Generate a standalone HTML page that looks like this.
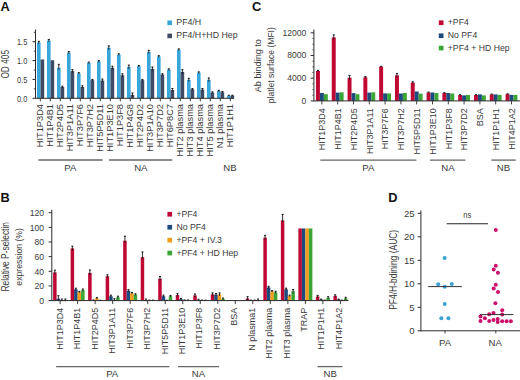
<!DOCTYPE html>
<html><head><meta charset="utf-8"><style>
html,body{margin:0;padding:0;background:#fff;}
body{width:520px;height:380px;overflow:hidden;}
svg{display:block;}
text{font-family:"Liberation Sans",sans-serif;}

</style></head><body>
<svg width="520" height="380" viewBox="0 0 520 380">
<rect width="520" height="380" fill="#fff"/>
<g font-family="Liberation Sans, sans-serif">
<text x="0.40" y="10.60" font-size="12.8" text-anchor="start" font-weight="bold" fill="#111">A</text>
<rect x="37.00" y="42.50" width="3.60" height="55.80" fill="#38a6da"/>
<rect x="40.60" y="59.47" width="3.60" height="38.83" fill="#3f4a65"/>
<line x1="38.80" y1="41.37" x2="38.80" y2="43.63" stroke="#1a1a1a" stroke-width="0.9"/>
<line x1="37.80" y1="41.37" x2="39.80" y2="41.37" stroke="#1a1a1a" stroke-width="1.1"/>
<rect x="47.00" y="40.62" width="3.60" height="57.68" fill="#38a6da"/>
<rect x="50.60" y="60.22" width="3.60" height="38.08" fill="#3f4a65"/>
<line x1="48.80" y1="39.49" x2="48.80" y2="41.75" stroke="#1a1a1a" stroke-width="0.9"/>
<line x1="47.80" y1="39.49" x2="49.80" y2="39.49" stroke="#1a1a1a" stroke-width="1.1"/>
<rect x="57.00" y="67.76" width="3.60" height="30.54" fill="#38a6da"/>
<rect x="60.60" y="86.99" width="3.60" height="11.31" fill="#3f4a65"/>
<line x1="58.80" y1="64.37" x2="58.80" y2="69.76" stroke="#1a1a1a" stroke-width="0.9"/>
<line x1="57.80" y1="64.37" x2="59.80" y2="64.37" stroke="#1a1a1a" stroke-width="1.1"/>
<line x1="62.40" y1="86.24" x2="62.40" y2="87.74" stroke="#1a1a1a" stroke-width="0.9"/>
<line x1="61.40" y1="86.24" x2="63.40" y2="86.24" stroke="#1a1a1a" stroke-width="1.1"/>
<rect x="67.00" y="52.68" width="3.60" height="45.62" fill="#38a6da"/>
<rect x="70.60" y="71.16" width="3.60" height="27.14" fill="#3f4a65"/>
<line x1="68.80" y1="51.55" x2="68.80" y2="53.81" stroke="#1a1a1a" stroke-width="0.9"/>
<line x1="67.80" y1="51.55" x2="69.80" y2="51.55" stroke="#1a1a1a" stroke-width="1.1"/>
<line x1="72.40" y1="69.65" x2="72.40" y2="72.66" stroke="#1a1a1a" stroke-width="0.9"/>
<line x1="71.40" y1="69.65" x2="73.40" y2="69.65" stroke="#1a1a1a" stroke-width="1.1"/>
<rect x="77.00" y="73.42" width="3.60" height="24.88" fill="#38a6da"/>
<rect x="80.60" y="86.99" width="3.60" height="11.31" fill="#3f4a65"/>
<line x1="78.80" y1="72.66" x2="78.80" y2="74.17" stroke="#1a1a1a" stroke-width="0.9"/>
<line x1="77.80" y1="72.66" x2="79.80" y2="72.66" stroke="#1a1a1a" stroke-width="1.1"/>
<line x1="82.40" y1="85.86" x2="82.40" y2="88.12" stroke="#1a1a1a" stroke-width="0.9"/>
<line x1="81.40" y1="85.86" x2="83.40" y2="85.86" stroke="#1a1a1a" stroke-width="1.1"/>
<rect x="87.00" y="62.86" width="3.60" height="35.44" fill="#38a6da"/>
<rect x="90.60" y="80.20" width="3.60" height="18.10" fill="#3f4a65"/>
<line x1="88.80" y1="62.11" x2="88.80" y2="63.62" stroke="#1a1a1a" stroke-width="0.9"/>
<line x1="87.80" y1="62.11" x2="89.80" y2="62.11" stroke="#1a1a1a" stroke-width="1.1"/>
<line x1="92.40" y1="79.45" x2="92.40" y2="80.96" stroke="#1a1a1a" stroke-width="0.9"/>
<line x1="91.40" y1="79.45" x2="93.40" y2="79.45" stroke="#1a1a1a" stroke-width="1.1"/>
<rect x="97.00" y="61.35" width="3.60" height="36.95" fill="#38a6da"/>
<rect x="100.60" y="80.58" width="3.60" height="17.72" fill="#3f4a65"/>
<line x1="98.80" y1="60.60" x2="98.80" y2="62.11" stroke="#1a1a1a" stroke-width="0.9"/>
<line x1="97.80" y1="60.60" x2="99.80" y2="60.60" stroke="#1a1a1a" stroke-width="1.1"/>
<line x1="102.40" y1="79.07" x2="102.40" y2="82.09" stroke="#1a1a1a" stroke-width="0.9"/>
<line x1="101.40" y1="79.07" x2="103.40" y2="79.07" stroke="#1a1a1a" stroke-width="1.1"/>
<rect x="107.00" y="47.78" width="3.60" height="50.52" fill="#38a6da"/>
<rect x="110.60" y="67.76" width="3.60" height="30.54" fill="#3f4a65"/>
<line x1="108.80" y1="45.90" x2="108.80" y2="49.67" stroke="#1a1a1a" stroke-width="0.9"/>
<line x1="107.80" y1="45.90" x2="109.80" y2="45.90" stroke="#1a1a1a" stroke-width="1.1"/>
<line x1="112.40" y1="66.25" x2="112.40" y2="69.27" stroke="#1a1a1a" stroke-width="0.9"/>
<line x1="111.40" y1="66.25" x2="113.40" y2="66.25" stroke="#1a1a1a" stroke-width="1.1"/>
<rect x="117.00" y="54.57" width="3.60" height="43.73" fill="#38a6da"/>
<rect x="120.60" y="75.30" width="3.60" height="23.00" fill="#3f4a65"/>
<line x1="118.80" y1="53.81" x2="118.80" y2="55.32" stroke="#1a1a1a" stroke-width="0.9"/>
<line x1="117.80" y1="53.81" x2="119.80" y2="53.81" stroke="#1a1a1a" stroke-width="1.1"/>
<line x1="122.40" y1="73.80" x2="122.40" y2="76.81" stroke="#1a1a1a" stroke-width="0.9"/>
<line x1="121.40" y1="73.80" x2="123.40" y2="73.80" stroke="#1a1a1a" stroke-width="1.1"/>
<rect x="127.00" y="67.01" width="3.60" height="31.29" fill="#38a6da"/>
<rect x="130.60" y="94.91" width="3.60" height="3.39" fill="#3f4a65"/>
<line x1="128.80" y1="65.12" x2="128.80" y2="68.89" stroke="#1a1a1a" stroke-width="0.9"/>
<line x1="127.80" y1="65.12" x2="129.80" y2="65.12" stroke="#1a1a1a" stroke-width="1.1"/>
<line x1="132.40" y1="93.02" x2="132.40" y2="96.79" stroke="#1a1a1a" stroke-width="0.9"/>
<line x1="131.40" y1="93.02" x2="133.40" y2="93.02" stroke="#1a1a1a" stroke-width="1.1"/>
<rect x="137.00" y="66.25" width="3.60" height="32.05" fill="#38a6da"/>
<rect x="140.60" y="80.20" width="3.60" height="18.10" fill="#3f4a65"/>
<line x1="138.80" y1="65.50" x2="138.80" y2="67.01" stroke="#1a1a1a" stroke-width="0.9"/>
<line x1="137.80" y1="65.50" x2="139.80" y2="65.50" stroke="#1a1a1a" stroke-width="1.1"/>
<line x1="142.40" y1="79.45" x2="142.40" y2="80.96" stroke="#1a1a1a" stroke-width="0.9"/>
<line x1="141.40" y1="79.45" x2="143.40" y2="79.45" stroke="#1a1a1a" stroke-width="1.1"/>
<rect x="147.00" y="51.93" width="3.60" height="46.37" fill="#38a6da"/>
<rect x="150.60" y="68.89" width="3.60" height="29.41" fill="#3f4a65"/>
<line x1="148.80" y1="50.42" x2="148.80" y2="53.44" stroke="#1a1a1a" stroke-width="0.9"/>
<line x1="147.80" y1="50.42" x2="149.80" y2="50.42" stroke="#1a1a1a" stroke-width="1.1"/>
<line x1="152.40" y1="67.01" x2="152.40" y2="70.78" stroke="#1a1a1a" stroke-width="0.9"/>
<line x1="151.40" y1="67.01" x2="153.40" y2="67.01" stroke="#1a1a1a" stroke-width="1.1"/>
<rect x="157.00" y="56.45" width="3.60" height="41.85" fill="#38a6da"/>
<rect x="160.60" y="74.55" width="3.60" height="23.75" fill="#3f4a65"/>
<line x1="158.80" y1="55.70" x2="158.80" y2="57.21" stroke="#1a1a1a" stroke-width="0.9"/>
<line x1="157.80" y1="55.70" x2="159.80" y2="55.70" stroke="#1a1a1a" stroke-width="1.1"/>
<line x1="162.40" y1="73.79" x2="162.40" y2="75.30" stroke="#1a1a1a" stroke-width="0.9"/>
<line x1="161.40" y1="73.79" x2="163.40" y2="73.79" stroke="#1a1a1a" stroke-width="1.1"/>
<rect x="167.00" y="69.65" width="3.60" height="28.65" fill="#38a6da"/>
<rect x="170.60" y="90.01" width="3.60" height="8.29" fill="#3f4a65"/>
<line x1="168.80" y1="68.89" x2="168.80" y2="70.40" stroke="#1a1a1a" stroke-width="0.9"/>
<line x1="167.80" y1="68.89" x2="169.80" y2="68.89" stroke="#1a1a1a" stroke-width="1.1"/>
<line x1="172.40" y1="88.50" x2="172.40" y2="91.51" stroke="#1a1a1a" stroke-width="0.9"/>
<line x1="171.40" y1="88.50" x2="173.40" y2="88.50" stroke="#1a1a1a" stroke-width="1.1"/>
<rect x="177.00" y="49.67" width="3.60" height="48.63" fill="#38a6da"/>
<rect x="180.60" y="71.91" width="3.60" height="26.39" fill="#3f4a65"/>
<line x1="178.80" y1="48.91" x2="178.80" y2="50.42" stroke="#1a1a1a" stroke-width="0.9"/>
<line x1="177.80" y1="48.91" x2="179.80" y2="48.91" stroke="#1a1a1a" stroke-width="1.1"/>
<line x1="182.40" y1="69.65" x2="182.40" y2="73.91" stroke="#1a1a1a" stroke-width="0.9"/>
<line x1="181.40" y1="69.65" x2="183.40" y2="69.65" stroke="#1a1a1a" stroke-width="1.1"/>
<rect x="187.00" y="79.83" width="3.60" height="18.47" fill="#38a6da"/>
<rect x="190.60" y="89.25" width="3.60" height="9.05" fill="#3f4a65"/>
<line x1="188.80" y1="78.32" x2="188.80" y2="81.33" stroke="#1a1a1a" stroke-width="0.9"/>
<line x1="187.80" y1="78.32" x2="189.80" y2="78.32" stroke="#1a1a1a" stroke-width="1.1"/>
<line x1="192.40" y1="88.50" x2="192.40" y2="90.01" stroke="#1a1a1a" stroke-width="0.9"/>
<line x1="191.40" y1="88.50" x2="193.40" y2="88.50" stroke="#1a1a1a" stroke-width="1.1"/>
<rect x="197.00" y="72.66" width="3.60" height="25.64" fill="#38a6da"/>
<rect x="200.60" y="89.63" width="3.60" height="8.67" fill="#3f4a65"/>
<line x1="198.80" y1="71.91" x2="198.80" y2="73.42" stroke="#1a1a1a" stroke-width="0.9"/>
<line x1="197.80" y1="71.91" x2="199.80" y2="71.91" stroke="#1a1a1a" stroke-width="1.1"/>
<line x1="202.40" y1="88.50" x2="202.40" y2="90.76" stroke="#1a1a1a" stroke-width="0.9"/>
<line x1="201.40" y1="88.50" x2="203.40" y2="88.50" stroke="#1a1a1a" stroke-width="1.1"/>
<rect x="207.00" y="79.83" width="3.60" height="18.47" fill="#38a6da"/>
<rect x="210.60" y="92.64" width="3.60" height="5.66" fill="#3f4a65"/>
<line x1="208.80" y1="77.94" x2="208.80" y2="81.71" stroke="#1a1a1a" stroke-width="0.9"/>
<line x1="207.80" y1="77.94" x2="209.80" y2="77.94" stroke="#1a1a1a" stroke-width="1.1"/>
<line x1="212.40" y1="91.89" x2="212.40" y2="93.40" stroke="#1a1a1a" stroke-width="0.9"/>
<line x1="211.40" y1="91.89" x2="213.40" y2="91.89" stroke="#1a1a1a" stroke-width="1.1"/>
<rect x="217.00" y="91.14" width="3.60" height="7.16" fill="#38a6da"/>
<rect x="220.60" y="92.27" width="3.60" height="6.03" fill="#3f4a65"/>
<line x1="218.80" y1="90.38" x2="218.80" y2="91.89" stroke="#1a1a1a" stroke-width="0.9"/>
<line x1="217.80" y1="90.38" x2="219.80" y2="90.38" stroke="#1a1a1a" stroke-width="1.1"/>
<line x1="222.40" y1="91.51" x2="222.40" y2="93.02" stroke="#1a1a1a" stroke-width="0.9"/>
<line x1="221.40" y1="91.51" x2="223.40" y2="91.51" stroke="#1a1a1a" stroke-width="1.1"/>
<rect x="227.00" y="95.66" width="3.60" height="2.64" fill="#38a6da"/>
<rect x="230.60" y="95.66" width="3.60" height="2.64" fill="#3f4a65"/>
<line x1="228.80" y1="95.28" x2="228.80" y2="96.04" stroke="#1a1a1a" stroke-width="0.9"/>
<line x1="227.80" y1="95.28" x2="229.80" y2="95.28" stroke="#1a1a1a" stroke-width="1.1"/>
<line x1="232.40" y1="95.28" x2="232.40" y2="96.04" stroke="#1a1a1a" stroke-width="0.9"/>
<line x1="231.40" y1="95.28" x2="233.40" y2="95.28" stroke="#1a1a1a" stroke-width="1.1"/>
<line x1="35.50" y1="29.50" x2="35.50" y2="98.80" stroke="#2b2b2b" stroke-width="1.0"/>
<line x1="35.50" y1="98.30" x2="234.00" y2="98.30" stroke="#2b2b2b" stroke-width="1.0"/>
<line x1="32.50" y1="98.30" x2="35.50" y2="98.30" stroke="#2b2b2b" stroke-width="1.0"/>
<text class="r" x="27.30" y="101.50" font-size="9.2" text-anchor="end" font-weight="normal" fill="#3a3a3a" textLength="10.40" lengthAdjust="spacingAndGlyphs">0.0</text>
<line x1="33.70" y1="88.88" x2="35.50" y2="88.88" stroke="#2b2b2b" stroke-width="0.8"/>
<line x1="32.50" y1="79.45" x2="35.50" y2="79.45" stroke="#2b2b2b" stroke-width="1.0"/>
<text class="r" x="27.30" y="82.65" font-size="9.2" text-anchor="end" font-weight="normal" fill="#3a3a3a" textLength="10.40" lengthAdjust="spacingAndGlyphs">0.5</text>
<line x1="33.70" y1="70.02" x2="35.50" y2="70.02" stroke="#2b2b2b" stroke-width="0.8"/>
<line x1="32.50" y1="60.60" x2="35.50" y2="60.60" stroke="#2b2b2b" stroke-width="1.0"/>
<text class="r" x="27.30" y="63.80" font-size="9.2" text-anchor="end" font-weight="normal" fill="#3a3a3a" textLength="10.40" lengthAdjust="spacingAndGlyphs">1.0</text>
<line x1="33.70" y1="51.17" x2="35.50" y2="51.17" stroke="#2b2b2b" stroke-width="0.8"/>
<line x1="32.50" y1="41.75" x2="35.50" y2="41.75" stroke="#2b2b2b" stroke-width="1.0"/>
<text class="r" x="27.30" y="44.95" font-size="9.2" text-anchor="end" font-weight="normal" fill="#3a3a3a" textLength="10.40" lengthAdjust="spacingAndGlyphs">1.5</text>
<line x1="33.70" y1="32.32" x2="35.50" y2="32.32" stroke="#2b2b2b" stroke-width="0.8"/>
<line x1="40.30" y1="98.30" x2="40.30" y2="101.30" stroke="#2b2b2b" stroke-width="0.9"/>
<text class="r" x="43.40" y="104.00" font-size="9.25" text-anchor="end" font-weight="normal" fill="#3a3a3a" transform="rotate(-90 43.40 104.00)">HIT1P3D4</text>
<line x1="50.30" y1="98.30" x2="50.30" y2="101.30" stroke="#2b2b2b" stroke-width="0.9"/>
<text class="r" x="53.40" y="104.00" font-size="9.25" text-anchor="end" font-weight="normal" fill="#3a3a3a" transform="rotate(-90 53.40 104.00)">HIT1P4B1</text>
<line x1="60.30" y1="98.30" x2="60.30" y2="101.30" stroke="#2b2b2b" stroke-width="0.9"/>
<text class="r" x="63.40" y="104.00" font-size="9.25" text-anchor="end" font-weight="normal" fill="#3a3a3a" transform="rotate(-90 63.40 104.00)">HIT2P4D5</text>
<line x1="70.30" y1="98.30" x2="70.30" y2="101.30" stroke="#2b2b2b" stroke-width="0.9"/>
<text class="r" x="73.40" y="104.00" font-size="9.25" text-anchor="end" font-weight="normal" fill="#3a3a3a" transform="rotate(-90 73.40 104.00)">HIT3P1A11</text>
<line x1="80.30" y1="98.30" x2="80.30" y2="101.30" stroke="#2b2b2b" stroke-width="0.9"/>
<text class="r" x="83.40" y="104.00" font-size="9.25" text-anchor="end" font-weight="normal" fill="#3a3a3a" transform="rotate(-90 83.40 104.00)">HIT3P7F6</text>
<line x1="90.30" y1="98.30" x2="90.30" y2="101.30" stroke="#2b2b2b" stroke-width="0.9"/>
<text class="r" x="93.40" y="104.00" font-size="9.25" text-anchor="end" font-weight="normal" fill="#3a3a3a" transform="rotate(-90 93.40 104.00)">HIT3P7H2</text>
<line x1="100.30" y1="98.30" x2="100.30" y2="101.30" stroke="#2b2b2b" stroke-width="0.9"/>
<text class="r" x="103.40" y="104.00" font-size="9.25" text-anchor="end" font-weight="normal" fill="#3a3a3a" transform="rotate(-90 103.40 104.00)">HIT5P5D11</text>
<line x1="110.30" y1="98.30" x2="110.30" y2="101.30" stroke="#2b2b2b" stroke-width="0.9"/>
<text class="r" x="113.40" y="104.00" font-size="9.25" text-anchor="end" font-weight="normal" fill="#3a3a3a" transform="rotate(-90 113.40 104.00)">HIT1P3E10</text>
<line x1="120.30" y1="98.30" x2="120.30" y2="101.30" stroke="#2b2b2b" stroke-width="0.9"/>
<text class="r" x="123.40" y="104.00" font-size="9.25" text-anchor="end" font-weight="normal" fill="#3a3a3a" transform="rotate(-90 123.40 104.00)">HIT1P3F8</text>
<line x1="130.30" y1="98.30" x2="130.30" y2="101.30" stroke="#2b2b2b" stroke-width="0.9"/>
<text class="r" x="133.40" y="104.00" font-size="9.25" text-anchor="end" font-weight="normal" fill="#3a3a3a" transform="rotate(-90 133.40 104.00)">HIT1P4G8</text>
<line x1="140.30" y1="98.30" x2="140.30" y2="101.30" stroke="#2b2b2b" stroke-width="0.9"/>
<text class="r" x="143.40" y="104.00" font-size="9.25" text-anchor="end" font-weight="normal" fill="#3a3a3a" transform="rotate(-90 143.40 104.00)">HIT2P4D2</text>
<line x1="150.30" y1="98.30" x2="150.30" y2="101.30" stroke="#2b2b2b" stroke-width="0.9"/>
<text class="r" x="153.40" y="104.00" font-size="9.25" text-anchor="end" font-weight="normal" fill="#3a3a3a" transform="rotate(-90 153.40 104.00)">HIT3P1A10</text>
<line x1="160.30" y1="98.30" x2="160.30" y2="101.30" stroke="#2b2b2b" stroke-width="0.9"/>
<text class="r" x="163.40" y="104.00" font-size="9.25" text-anchor="end" font-weight="normal" fill="#3a3a3a" transform="rotate(-90 163.40 104.00)">HIT3P7D2</text>
<line x1="170.30" y1="98.30" x2="170.30" y2="101.30" stroke="#2b2b2b" stroke-width="0.9"/>
<text class="r" x="173.40" y="104.00" font-size="9.25" text-anchor="end" font-weight="normal" fill="#3a3a3a" transform="rotate(-90 173.40 104.00)">HIT6P8C7</text>
<line x1="180.30" y1="98.30" x2="180.30" y2="101.30" stroke="#2b2b2b" stroke-width="0.9"/>
<text class="r" x="183.40" y="104.00" font-size="9.25" text-anchor="end" font-weight="normal" fill="#3a3a3a" transform="rotate(-90 183.40 104.00)">HIT2 plasma</text>
<line x1="190.30" y1="98.30" x2="190.30" y2="101.30" stroke="#2b2b2b" stroke-width="0.9"/>
<text class="r" x="193.40" y="104.00" font-size="9.25" text-anchor="end" font-weight="normal" fill="#3a3a3a" transform="rotate(-90 193.40 104.00)">HIT3 plasma</text>
<line x1="200.30" y1="98.30" x2="200.30" y2="101.30" stroke="#2b2b2b" stroke-width="0.9"/>
<text class="r" x="203.40" y="104.00" font-size="9.25" text-anchor="end" font-weight="normal" fill="#3a3a3a" transform="rotate(-90 203.40 104.00)">HIT4 plasma</text>
<line x1="210.30" y1="98.30" x2="210.30" y2="101.30" stroke="#2b2b2b" stroke-width="0.9"/>
<text class="r" x="213.40" y="104.00" font-size="9.25" text-anchor="end" font-weight="normal" fill="#3a3a3a" transform="rotate(-90 213.40 104.00)">HIT5 plasma</text>
<line x1="220.30" y1="98.30" x2="220.30" y2="101.30" stroke="#2b2b2b" stroke-width="0.9"/>
<text class="r" x="223.40" y="104.00" font-size="9.25" text-anchor="end" font-weight="normal" fill="#3a3a3a" transform="rotate(-90 223.40 104.00)">N1 plasma</text>
<line x1="230.30" y1="98.30" x2="230.30" y2="101.30" stroke="#2b2b2b" stroke-width="0.9"/>
<text class="r" x="233.40" y="104.00" font-size="9.25" text-anchor="end" font-weight="normal" fill="#3a3a3a" transform="rotate(-90 233.40 104.00)">HIT1P1H1</text>
<text class="r" x="9.00" y="64.30" font-size="10.0" text-anchor="middle" font-weight="normal" fill="#3a3a3a" transform="rotate(-90 9.00 64.30)" textLength="28.60" lengthAdjust="spacingAndGlyphs">OD 405</text>
<line x1="38.40" y1="160.00" x2="102.60" y2="160.00" stroke="#666" stroke-width="1.3"/>
<line x1="109.00" y1="160.00" x2="172.30" y2="160.00" stroke="#666" stroke-width="1.3"/>
<text class="r" x="70.40" y="171.00" font-size="9.6" text-anchor="middle" font-weight="normal" fill="#3a3a3a">PA</text>
<text class="r" x="140.80" y="171.00" font-size="9.6" text-anchor="middle" font-weight="normal" fill="#3a3a3a">NA</text>
<text class="r" x="230.00" y="171.00" font-size="9.6" text-anchor="middle" font-weight="normal" fill="#3a3a3a">NB</text>
<rect x="167.40" y="20.50" width="4.60" height="4.60" fill="#38a6da"/>
<text class="r" x="176.30" y="25.30" font-size="8.8" text-anchor="start" font-weight="normal" fill="#3a3a3a">PF4/H</text>
<rect x="167.40" y="33.60" width="4.60" height="4.60" fill="#3f4a65"/>
<text class="r" x="176.30" y="38.30" font-size="8.8" text-anchor="start" font-weight="normal" fill="#3a3a3a">PF4/H+HD Hep</text>
<text x="252.00" y="11.00" font-size="12.8" text-anchor="start" font-weight="bold" fill="#111">C</text>
<rect x="315.97" y="71.00" width="3.95" height="29.90" fill="#c00834"/>
<rect x="319.92" y="93.00" width="3.95" height="7.90" fill="#1d4b80"/>
<rect x="323.88" y="94.20" width="3.95" height="6.70" fill="#3ba535"/>
<line x1="317.95" y1="70.40" x2="317.95" y2="71.60" stroke="#1a1a1a" stroke-width="0.9"/>
<line x1="316.95" y1="70.40" x2="318.95" y2="70.40" stroke="#1a1a1a" stroke-width="1.1"/>
<rect x="331.77" y="37.40" width="3.95" height="63.50" fill="#c00834"/>
<rect x="335.72" y="92.60" width="3.95" height="8.30" fill="#1d4b80"/>
<rect x="339.68" y="92.30" width="3.95" height="8.60" fill="#3ba535"/>
<line x1="333.75" y1="34.90" x2="333.75" y2="39.40" stroke="#1a1a1a" stroke-width="0.9"/>
<line x1="332.75" y1="34.90" x2="334.75" y2="34.90" stroke="#1a1a1a" stroke-width="1.1"/>
<rect x="347.57" y="77.70" width="3.95" height="23.20" fill="#c00834"/>
<rect x="351.52" y="93.10" width="3.95" height="7.80" fill="#1d4b80"/>
<rect x="355.48" y="94.20" width="3.95" height="6.70" fill="#3ba535"/>
<line x1="349.55" y1="75.40" x2="349.55" y2="79.70" stroke="#1a1a1a" stroke-width="0.9"/>
<line x1="348.55" y1="75.40" x2="350.55" y2="75.40" stroke="#1a1a1a" stroke-width="1.1"/>
<rect x="363.37" y="77.30" width="3.95" height="23.60" fill="#c00834"/>
<rect x="367.32" y="92.60" width="3.95" height="8.30" fill="#1d4b80"/>
<rect x="371.27" y="92.30" width="3.95" height="8.60" fill="#3ba535"/>
<line x1="365.35" y1="76.50" x2="365.35" y2="78.10" stroke="#1a1a1a" stroke-width="0.9"/>
<line x1="364.35" y1="76.50" x2="366.35" y2="76.50" stroke="#1a1a1a" stroke-width="1.1"/>
<rect x="379.17" y="66.60" width="3.95" height="34.30" fill="#c00834"/>
<rect x="383.12" y="93.40" width="3.95" height="7.50" fill="#1d4b80"/>
<rect x="387.07" y="93.40" width="3.95" height="7.50" fill="#3ba535"/>
<line x1="381.15" y1="66.30" x2="381.15" y2="66.90" stroke="#1a1a1a" stroke-width="0.9"/>
<line x1="380.15" y1="66.30" x2="382.15" y2="66.30" stroke="#1a1a1a" stroke-width="1.1"/>
<rect x="394.97" y="75.40" width="3.95" height="25.50" fill="#c00834"/>
<rect x="398.92" y="93.50" width="3.95" height="7.40" fill="#1d4b80"/>
<rect x="402.88" y="93.00" width="3.95" height="7.90" fill="#3ba535"/>
<line x1="396.95" y1="73.50" x2="396.95" y2="77.30" stroke="#1a1a1a" stroke-width="0.9"/>
<line x1="395.95" y1="73.50" x2="397.95" y2="73.50" stroke="#1a1a1a" stroke-width="1.1"/>
<rect x="410.77" y="82.60" width="3.95" height="18.30" fill="#c00834"/>
<rect x="414.72" y="91.50" width="3.95" height="9.40" fill="#1d4b80"/>
<rect x="418.68" y="93.60" width="3.95" height="7.30" fill="#3ba535"/>
<line x1="412.75" y1="81.80" x2="412.75" y2="83.40" stroke="#1a1a1a" stroke-width="0.9"/>
<line x1="411.75" y1="81.80" x2="413.75" y2="81.80" stroke="#1a1a1a" stroke-width="1.1"/>
<rect x="426.57" y="92.50" width="3.95" height="8.40" fill="#c00834"/>
<rect x="430.52" y="92.50" width="3.95" height="8.40" fill="#1d4b80"/>
<rect x="434.48" y="93.00" width="3.95" height="7.90" fill="#3ba535"/>
<line x1="428.55" y1="92.10" x2="428.55" y2="92.90" stroke="#1a1a1a" stroke-width="0.9"/>
<line x1="427.55" y1="92.10" x2="429.55" y2="92.10" stroke="#1a1a1a" stroke-width="1.1"/>
<rect x="442.37" y="93.00" width="3.95" height="7.90" fill="#c00834"/>
<rect x="446.32" y="93.00" width="3.95" height="7.90" fill="#1d4b80"/>
<rect x="450.27" y="93.50" width="3.95" height="7.40" fill="#3ba535"/>
<line x1="444.35" y1="92.70" x2="444.35" y2="93.30" stroke="#1a1a1a" stroke-width="0.9"/>
<line x1="443.35" y1="92.70" x2="445.35" y2="92.70" stroke="#1a1a1a" stroke-width="1.1"/>
<rect x="458.18" y="95.00" width="3.95" height="5.90" fill="#c00834"/>
<rect x="462.12" y="95.40" width="3.95" height="5.50" fill="#1d4b80"/>
<rect x="466.08" y="95.00" width="3.95" height="5.90" fill="#3ba535"/>
<line x1="460.15" y1="94.70" x2="460.15" y2="95.30" stroke="#1a1a1a" stroke-width="0.9"/>
<line x1="459.15" y1="94.70" x2="461.15" y2="94.70" stroke="#1a1a1a" stroke-width="1.1"/>
<rect x="473.97" y="95.00" width="3.95" height="5.90" fill="#c00834"/>
<rect x="477.92" y="94.40" width="3.95" height="6.50" fill="#1d4b80"/>
<rect x="481.88" y="95.40" width="3.95" height="5.50" fill="#3ba535"/>
<line x1="475.95" y1="94.70" x2="475.95" y2="95.30" stroke="#1a1a1a" stroke-width="0.9"/>
<line x1="474.95" y1="94.70" x2="476.95" y2="94.70" stroke="#1a1a1a" stroke-width="1.1"/>
<rect x="489.77" y="94.40" width="3.95" height="6.50" fill="#c00834"/>
<rect x="493.72" y="94.40" width="3.95" height="6.50" fill="#1d4b80"/>
<rect x="497.68" y="94.90" width="3.95" height="6.00" fill="#3ba535"/>
<line x1="491.75" y1="94.10" x2="491.75" y2="94.70" stroke="#1a1a1a" stroke-width="0.9"/>
<line x1="490.75" y1="94.10" x2="492.75" y2="94.10" stroke="#1a1a1a" stroke-width="1.1"/>
<rect x="505.57" y="94.10" width="3.95" height="6.80" fill="#c00834"/>
<rect x="509.52" y="94.90" width="3.95" height="6.00" fill="#1d4b80"/>
<rect x="513.48" y="94.90" width="3.95" height="6.00" fill="#3ba535"/>
<line x1="507.55" y1="93.80" x2="507.55" y2="94.40" stroke="#1a1a1a" stroke-width="0.9"/>
<line x1="506.55" y1="93.80" x2="508.55" y2="93.80" stroke="#1a1a1a" stroke-width="1.1"/>
<line x1="313.90" y1="29.50" x2="313.90" y2="101.40" stroke="#2b2b2b" stroke-width="1.0"/>
<line x1="313.90" y1="100.90" x2="520.00" y2="100.90" stroke="#2b2b2b" stroke-width="1.0"/>
<line x1="310.70" y1="100.90" x2="313.90" y2="100.90" stroke="#2b2b2b" stroke-width="1.0"/>
<text class="r" x="306.20" y="103.80" font-size="9.2" text-anchor="end" font-weight="normal" fill="#3a3a3a" textLength="4.75" lengthAdjust="spacingAndGlyphs">0</text>
<line x1="312.30" y1="95.23" x2="313.90" y2="95.23" stroke="#2b2b2b" stroke-width="0.7"/>
<line x1="312.30" y1="89.55" x2="313.90" y2="89.55" stroke="#2b2b2b" stroke-width="0.7"/>
<line x1="312.30" y1="83.88" x2="313.90" y2="83.88" stroke="#2b2b2b" stroke-width="0.7"/>
<line x1="310.70" y1="78.20" x2="313.90" y2="78.20" stroke="#2b2b2b" stroke-width="1.0"/>
<text class="r" x="306.20" y="81.10" font-size="9.2" text-anchor="end" font-weight="normal" fill="#3a3a3a" textLength="19.00" lengthAdjust="spacingAndGlyphs">4000</text>
<line x1="312.30" y1="72.53" x2="313.90" y2="72.53" stroke="#2b2b2b" stroke-width="0.7"/>
<line x1="312.30" y1="66.85" x2="313.90" y2="66.85" stroke="#2b2b2b" stroke-width="0.7"/>
<line x1="312.30" y1="61.18" x2="313.90" y2="61.18" stroke="#2b2b2b" stroke-width="0.7"/>
<line x1="310.70" y1="55.50" x2="313.90" y2="55.50" stroke="#2b2b2b" stroke-width="1.0"/>
<text class="r" x="306.20" y="58.40" font-size="9.2" text-anchor="end" font-weight="normal" fill="#3a3a3a" textLength="19.00" lengthAdjust="spacingAndGlyphs">8000</text>
<line x1="312.30" y1="49.83" x2="313.90" y2="49.83" stroke="#2b2b2b" stroke-width="0.7"/>
<line x1="312.30" y1="44.15" x2="313.90" y2="44.15" stroke="#2b2b2b" stroke-width="0.7"/>
<line x1="312.30" y1="38.48" x2="313.90" y2="38.48" stroke="#2b2b2b" stroke-width="0.7"/>
<line x1="310.70" y1="32.80" x2="313.90" y2="32.80" stroke="#2b2b2b" stroke-width="1.0"/>
<text class="r" x="306.20" y="35.70" font-size="9.2" text-anchor="end" font-weight="normal" fill="#3a3a3a" textLength="23.75" lengthAdjust="spacingAndGlyphs">12000</text>
<line x1="321.90" y1="100.90" x2="321.90" y2="104.40" stroke="#2b2b2b" stroke-width="0.9"/>
<text class="r" x="325.20" y="108.20" font-size="9.0" text-anchor="end" font-weight="normal" fill="#3a3a3a" transform="rotate(-90 325.20 108.20)">HIT1P3D4</text>
<line x1="337.70" y1="100.90" x2="337.70" y2="104.40" stroke="#2b2b2b" stroke-width="0.9"/>
<text class="r" x="341.00" y="108.20" font-size="9.0" text-anchor="end" font-weight="normal" fill="#3a3a3a" transform="rotate(-90 341.00 108.20)">HIT1P4B1</text>
<line x1="353.50" y1="100.90" x2="353.50" y2="104.40" stroke="#2b2b2b" stroke-width="0.9"/>
<text class="r" x="356.80" y="108.20" font-size="9.0" text-anchor="end" font-weight="normal" fill="#3a3a3a" transform="rotate(-90 356.80 108.20)">HIT2P4D5</text>
<line x1="369.30" y1="100.90" x2="369.30" y2="104.40" stroke="#2b2b2b" stroke-width="0.9"/>
<text class="r" x="372.60" y="108.20" font-size="9.0" text-anchor="end" font-weight="normal" fill="#3a3a3a" transform="rotate(-90 372.60 108.20)">HIT3P1A11</text>
<line x1="385.10" y1="100.90" x2="385.10" y2="104.40" stroke="#2b2b2b" stroke-width="0.9"/>
<text class="r" x="388.40" y="108.20" font-size="9.0" text-anchor="end" font-weight="normal" fill="#3a3a3a" transform="rotate(-90 388.40 108.20)">HIT3P7F6</text>
<line x1="400.90" y1="100.90" x2="400.90" y2="104.40" stroke="#2b2b2b" stroke-width="0.9"/>
<text class="r" x="404.20" y="108.20" font-size="9.0" text-anchor="end" font-weight="normal" fill="#3a3a3a" transform="rotate(-90 404.20 108.20)">HIT3P7H2</text>
<line x1="416.70" y1="100.90" x2="416.70" y2="104.40" stroke="#2b2b2b" stroke-width="0.9"/>
<text class="r" x="420.00" y="108.20" font-size="9.0" text-anchor="end" font-weight="normal" fill="#3a3a3a" transform="rotate(-90 420.00 108.20)">HIT5P5D11</text>
<line x1="432.50" y1="100.90" x2="432.50" y2="104.40" stroke="#2b2b2b" stroke-width="0.9"/>
<text class="r" x="435.80" y="108.20" font-size="9.0" text-anchor="end" font-weight="normal" fill="#3a3a3a" transform="rotate(-90 435.80 108.20)">HIT1P3E10</text>
<line x1="448.30" y1="100.90" x2="448.30" y2="104.40" stroke="#2b2b2b" stroke-width="0.9"/>
<text class="r" x="451.60" y="108.20" font-size="9.0" text-anchor="end" font-weight="normal" fill="#3a3a3a" transform="rotate(-90 451.60 108.20)">HIT1P3F8</text>
<line x1="464.10" y1="100.90" x2="464.10" y2="104.40" stroke="#2b2b2b" stroke-width="0.9"/>
<text class="r" x="467.40" y="108.20" font-size="9.0" text-anchor="end" font-weight="normal" fill="#3a3a3a" transform="rotate(-90 467.40 108.20)">HIT3P7D2</text>
<line x1="479.90" y1="100.90" x2="479.90" y2="104.40" stroke="#2b2b2b" stroke-width="0.9"/>
<text class="r" x="483.20" y="108.20" font-size="9.0" text-anchor="end" font-weight="normal" fill="#3a3a3a" transform="rotate(-90 483.20 108.20)">BSA</text>
<line x1="495.70" y1="100.90" x2="495.70" y2="104.40" stroke="#2b2b2b" stroke-width="0.9"/>
<text class="r" x="499.00" y="108.20" font-size="9.0" text-anchor="end" font-weight="normal" fill="#3a3a3a" transform="rotate(-90 499.00 108.20)">HIT1P1H1</text>
<line x1="511.50" y1="100.90" x2="511.50" y2="104.40" stroke="#2b2b2b" stroke-width="0.9"/>
<text class="r" x="514.80" y="108.20" font-size="9.0" text-anchor="end" font-weight="normal" fill="#3a3a3a" transform="rotate(-90 514.80 108.20)">HIT4P1A2</text>
<text class="r" x="261.30" y="65.65" font-size="9.6" text-anchor="middle" font-weight="normal" fill="#3a3a3a" transform="rotate(-90 261.30 65.65)" textLength="53.20" lengthAdjust="spacingAndGlyphs">Ab binding to</text>
<text class="r" x="274.00" y="65.15" font-size="9.6" text-anchor="middle" font-weight="normal" fill="#3a3a3a" transform="rotate(-90 274.00 65.15)" textLength="76.00" lengthAdjust="spacingAndGlyphs">platlet surface (MFI)</text>
<line x1="320.30" y1="160.10" x2="416.40" y2="160.10" stroke="#666" stroke-width="1.3"/>
<line x1="430.00" y1="160.10" x2="465.40" y2="160.10" stroke="#666" stroke-width="1.3"/>
<line x1="491.40" y1="160.10" x2="515.80" y2="160.10" stroke="#666" stroke-width="1.3"/>
<text class="r" x="368.40" y="170.80" font-size="9.6" text-anchor="middle" font-weight="normal" fill="#3a3a3a">PA</text>
<text class="r" x="448.00" y="170.80" font-size="9.6" text-anchor="middle" font-weight="normal" fill="#3a3a3a">NA</text>
<text class="r" x="503.40" y="170.80" font-size="9.6" text-anchor="middle" font-weight="normal" fill="#3a3a3a">NB</text>
<rect x="438.80" y="20.40" width="4.70" height="4.70" fill="#c00834"/>
<text class="r" x="447.80" y="25.30" font-size="8.7" text-anchor="start" font-weight="normal" fill="#3a3a3a">+PF4</text>
<rect x="438.80" y="33.40" width="4.70" height="4.70" fill="#1d4b80"/>
<text class="r" x="447.80" y="38.30" font-size="8.7" text-anchor="start" font-weight="normal" fill="#3a3a3a">No PF4</text>
<rect x="438.80" y="45.70" width="4.70" height="4.70" fill="#3ba535"/>
<text class="r" x="447.80" y="50.80" font-size="8.7" text-anchor="start" font-weight="normal" fill="#3a3a3a">+PF4 + HD Hep</text>
<text x="0.60" y="201.60" font-size="12.8" text-anchor="start" font-weight="bold" fill="#111">B</text>
<rect x="53.10" y="272.40" width="3.50" height="28.20" fill="#c00834"/>
<line x1="54.85" y1="270.20" x2="54.85" y2="274.40" stroke="#1a1a1a" stroke-width="0.9"/>
<line x1="53.85" y1="270.20" x2="55.85" y2="270.20" stroke="#1a1a1a" stroke-width="1.1"/>
<rect x="56.60" y="298.62" width="3.50" height="1.98" fill="#1d4b80"/>
<line x1="58.35" y1="295.69" x2="58.35" y2="300.62" stroke="#1a1a1a" stroke-width="0.9"/>
<line x1="57.35" y1="295.69" x2="59.35" y2="295.69" stroke="#1a1a1a" stroke-width="1.1"/>
<rect x="60.10" y="300.16" width="3.50" height="0.44" fill="#f19e1f"/>
<line x1="61.85" y1="299.06" x2="61.85" y2="301.26" stroke="#1a1a1a" stroke-width="0.9"/>
<line x1="60.85" y1="299.06" x2="62.85" y2="299.06" stroke="#1a1a1a" stroke-width="1.1"/>
<rect x="63.60" y="300.16" width="3.50" height="0.44" fill="#3ba535"/>
<line x1="65.35" y1="299.06" x2="65.35" y2="301.26" stroke="#1a1a1a" stroke-width="0.9"/>
<line x1="64.35" y1="299.06" x2="66.35" y2="299.06" stroke="#1a1a1a" stroke-width="1.1"/>
<rect x="70.62" y="248.37" width="3.50" height="52.23" fill="#c00834"/>
<line x1="72.37" y1="246.18" x2="72.37" y2="250.37" stroke="#1a1a1a" stroke-width="0.9"/>
<line x1="71.37" y1="246.18" x2="73.37" y2="246.18" stroke="#1a1a1a" stroke-width="1.1"/>
<rect x="74.12" y="289.32" width="3.50" height="11.28" fill="#1d4b80"/>
<line x1="75.87" y1="288.22" x2="75.87" y2="290.42" stroke="#1a1a1a" stroke-width="0.9"/>
<line x1="74.87" y1="288.22" x2="76.87" y2="288.22" stroke="#1a1a1a" stroke-width="1.1"/>
<rect x="77.62" y="292.10" width="3.50" height="8.50" fill="#f19e1f"/>
<line x1="79.37" y1="291.37" x2="79.37" y2="292.84" stroke="#1a1a1a" stroke-width="0.9"/>
<line x1="78.37" y1="291.37" x2="80.37" y2="291.37" stroke="#1a1a1a" stroke-width="1.1"/>
<rect x="81.12" y="290.13" width="3.50" height="10.47" fill="#3ba535"/>
<line x1="82.87" y1="289.03" x2="82.87" y2="291.22" stroke="#1a1a1a" stroke-width="0.9"/>
<line x1="81.87" y1="289.03" x2="83.87" y2="289.03" stroke="#1a1a1a" stroke-width="1.1"/>
<rect x="88.14" y="272.91" width="3.50" height="27.69" fill="#c00834"/>
<line x1="89.89" y1="269.98" x2="89.89" y2="274.91" stroke="#1a1a1a" stroke-width="0.9"/>
<line x1="88.89" y1="269.98" x2="90.89" y2="269.98" stroke="#1a1a1a" stroke-width="1.1"/>
<rect x="91.64" y="300.38" width="3.50" height="0.22" fill="#1d4b80"/>
<line x1="93.39" y1="300.01" x2="93.39" y2="300.75" stroke="#1a1a1a" stroke-width="0.9"/>
<line x1="92.39" y1="300.01" x2="94.39" y2="300.01" stroke="#1a1a1a" stroke-width="1.1"/>
<rect x="95.14" y="298.33" width="3.50" height="2.27" fill="#f19e1f"/>
<line x1="96.89" y1="297.60" x2="96.89" y2="299.06" stroke="#1a1a1a" stroke-width="0.9"/>
<line x1="95.89" y1="297.60" x2="97.89" y2="297.60" stroke="#1a1a1a" stroke-width="1.1"/>
<rect x="98.64" y="300.45" width="3.50" height="0.15" fill="#3ba535"/>
<line x1="100.39" y1="300.23" x2="100.39" y2="300.67" stroke="#1a1a1a" stroke-width="0.9"/>
<line x1="99.39" y1="300.23" x2="101.39" y2="300.23" stroke="#1a1a1a" stroke-width="1.1"/>
<rect x="105.66" y="276.28" width="3.50" height="24.32" fill="#c00834"/>
<line x1="107.41" y1="274.82" x2="107.41" y2="277.75" stroke="#1a1a1a" stroke-width="0.9"/>
<line x1="106.41" y1="274.82" x2="108.41" y2="274.82" stroke="#1a1a1a" stroke-width="1.1"/>
<rect x="109.16" y="296.28" width="3.50" height="4.32" fill="#1d4b80"/>
<line x1="110.91" y1="295.18" x2="110.91" y2="297.38" stroke="#1a1a1a" stroke-width="0.9"/>
<line x1="109.91" y1="295.18" x2="111.91" y2="295.18" stroke="#1a1a1a" stroke-width="1.1"/>
<rect x="112.66" y="299.87" width="3.50" height="0.73" fill="#f19e1f"/>
<line x1="114.41" y1="298.77" x2="114.41" y2="300.97" stroke="#1a1a1a" stroke-width="0.9"/>
<line x1="113.41" y1="298.77" x2="115.41" y2="298.77" stroke="#1a1a1a" stroke-width="1.1"/>
<rect x="116.16" y="297.30" width="3.50" height="3.30" fill="#3ba535"/>
<line x1="117.91" y1="296.21" x2="117.91" y2="298.40" stroke="#1a1a1a" stroke-width="0.9"/>
<line x1="116.91" y1="296.21" x2="118.91" y2="296.21" stroke="#1a1a1a" stroke-width="1.1"/>
<rect x="123.18" y="240.68" width="3.50" height="59.92" fill="#c00834"/>
<line x1="124.93" y1="236.29" x2="124.93" y2="242.68" stroke="#1a1a1a" stroke-width="0.9"/>
<line x1="123.93" y1="236.29" x2="125.93" y2="236.29" stroke="#1a1a1a" stroke-width="1.1"/>
<rect x="126.68" y="290.78" width="3.50" height="9.82" fill="#1d4b80"/>
<line x1="128.43" y1="289.69" x2="128.43" y2="291.88" stroke="#1a1a1a" stroke-width="0.9"/>
<line x1="127.43" y1="289.69" x2="129.43" y2="289.69" stroke="#1a1a1a" stroke-width="1.1"/>
<rect x="130.18" y="293.13" width="3.50" height="7.47" fill="#f19e1f"/>
<line x1="131.93" y1="292.40" x2="131.93" y2="293.86" stroke="#1a1a1a" stroke-width="0.9"/>
<line x1="130.93" y1="292.40" x2="132.93" y2="292.40" stroke="#1a1a1a" stroke-width="1.1"/>
<rect x="133.68" y="294.59" width="3.50" height="6.01" fill="#3ba535"/>
<line x1="135.43" y1="293.86" x2="135.43" y2="295.33" stroke="#1a1a1a" stroke-width="0.9"/>
<line x1="134.43" y1="293.86" x2="136.43" y2="293.86" stroke="#1a1a1a" stroke-width="1.1"/>
<rect x="140.70" y="257.09" width="3.50" height="43.51" fill="#c00834"/>
<line x1="142.45" y1="251.96" x2="142.45" y2="259.09" stroke="#1a1a1a" stroke-width="0.9"/>
<line x1="141.45" y1="251.96" x2="143.45" y2="251.96" stroke="#1a1a1a" stroke-width="1.1"/>
<rect x="144.20" y="300.16" width="3.50" height="0.44" fill="#1d4b80"/>
<line x1="145.95" y1="299.06" x2="145.95" y2="301.26" stroke="#1a1a1a" stroke-width="0.9"/>
<line x1="144.95" y1="299.06" x2="146.95" y2="299.06" stroke="#1a1a1a" stroke-width="1.1"/>
<rect x="147.70" y="300.38" width="3.50" height="0.22" fill="#f19e1f"/>
<line x1="149.45" y1="300.16" x2="149.45" y2="300.60" stroke="#1a1a1a" stroke-width="0.9"/>
<line x1="148.45" y1="300.16" x2="150.45" y2="300.16" stroke="#1a1a1a" stroke-width="1.1"/>
<rect x="151.20" y="300.38" width="3.50" height="0.22" fill="#3ba535"/>
<line x1="152.95" y1="300.16" x2="152.95" y2="300.60" stroke="#1a1a1a" stroke-width="0.9"/>
<line x1="151.95" y1="300.16" x2="153.95" y2="300.16" stroke="#1a1a1a" stroke-width="1.1"/>
<rect x="158.22" y="278.62" width="3.50" height="21.98" fill="#c00834"/>
<line x1="159.97" y1="276.43" x2="159.97" y2="280.62" stroke="#1a1a1a" stroke-width="0.9"/>
<line x1="158.97" y1="276.43" x2="160.97" y2="276.43" stroke="#1a1a1a" stroke-width="1.1"/>
<rect x="161.72" y="296.21" width="3.50" height="4.39" fill="#1d4b80"/>
<line x1="163.47" y1="295.11" x2="163.47" y2="297.30" stroke="#1a1a1a" stroke-width="0.9"/>
<line x1="162.47" y1="295.11" x2="164.47" y2="295.11" stroke="#1a1a1a" stroke-width="1.1"/>
<rect x="165.22" y="300.45" width="3.50" height="0.15" fill="#f19e1f"/>
<line x1="166.97" y1="300.31" x2="166.97" y2="300.60" stroke="#1a1a1a" stroke-width="0.9"/>
<line x1="165.97" y1="300.31" x2="167.97" y2="300.31" stroke="#1a1a1a" stroke-width="1.1"/>
<rect x="168.72" y="296.21" width="3.50" height="4.39" fill="#3ba535"/>
<line x1="170.47" y1="295.47" x2="170.47" y2="296.94" stroke="#1a1a1a" stroke-width="0.9"/>
<line x1="169.47" y1="295.47" x2="171.47" y2="295.47" stroke="#1a1a1a" stroke-width="1.1"/>
<rect x="175.74" y="295.03" width="3.50" height="5.57" fill="#c00834"/>
<line x1="177.49" y1="293.57" x2="177.49" y2="296.50" stroke="#1a1a1a" stroke-width="0.9"/>
<line x1="176.49" y1="293.57" x2="178.49" y2="293.57" stroke="#1a1a1a" stroke-width="1.1"/>
<rect x="179.24" y="299.14" width="3.50" height="1.46" fill="#1d4b80"/>
<line x1="180.99" y1="298.40" x2="180.99" y2="299.87" stroke="#1a1a1a" stroke-width="0.9"/>
<line x1="179.99" y1="298.40" x2="181.99" y2="298.40" stroke="#1a1a1a" stroke-width="1.1"/>
<rect x="182.74" y="300.31" width="3.50" height="0.29" fill="#f19e1f"/>
<line x1="184.49" y1="300.01" x2="184.49" y2="300.60" stroke="#1a1a1a" stroke-width="0.9"/>
<line x1="183.49" y1="300.01" x2="185.49" y2="300.01" stroke="#1a1a1a" stroke-width="1.1"/>
<rect x="186.24" y="300.31" width="3.50" height="0.29" fill="#3ba535"/>
<line x1="187.99" y1="300.01" x2="187.99" y2="300.60" stroke="#1a1a1a" stroke-width="0.9"/>
<line x1="186.99" y1="300.01" x2="188.99" y2="300.01" stroke="#1a1a1a" stroke-width="1.1"/>
<rect x="193.26" y="295.47" width="3.50" height="5.13" fill="#c00834"/>
<line x1="195.01" y1="294.01" x2="195.01" y2="296.94" stroke="#1a1a1a" stroke-width="0.9"/>
<line x1="194.01" y1="294.01" x2="196.01" y2="294.01" stroke="#1a1a1a" stroke-width="1.1"/>
<rect x="196.76" y="300.01" width="3.50" height="0.59" fill="#1d4b80"/>
<line x1="198.51" y1="299.28" x2="198.51" y2="300.75" stroke="#1a1a1a" stroke-width="0.9"/>
<line x1="197.51" y1="299.28" x2="199.51" y2="299.28" stroke="#1a1a1a" stroke-width="1.1"/>
<rect x="200.26" y="300.38" width="3.50" height="0.22" fill="#f19e1f"/>
<line x1="202.01" y1="300.16" x2="202.01" y2="300.60" stroke="#1a1a1a" stroke-width="0.9"/>
<line x1="201.01" y1="300.16" x2="203.01" y2="300.16" stroke="#1a1a1a" stroke-width="1.1"/>
<rect x="203.76" y="300.38" width="3.50" height="0.22" fill="#3ba535"/>
<line x1="205.51" y1="300.16" x2="205.51" y2="300.60" stroke="#1a1a1a" stroke-width="0.9"/>
<line x1="204.51" y1="300.16" x2="206.51" y2="300.16" stroke="#1a1a1a" stroke-width="1.1"/>
<rect x="210.78" y="294.37" width="3.50" height="6.23" fill="#c00834"/>
<line x1="212.53" y1="292.91" x2="212.53" y2="295.84" stroke="#1a1a1a" stroke-width="0.9"/>
<line x1="211.53" y1="292.91" x2="213.53" y2="292.91" stroke="#1a1a1a" stroke-width="1.1"/>
<rect x="214.28" y="294.59" width="3.50" height="6.01" fill="#1d4b80"/>
<line x1="216.03" y1="293.49" x2="216.03" y2="295.69" stroke="#1a1a1a" stroke-width="0.9"/>
<line x1="215.03" y1="293.49" x2="217.03" y2="293.49" stroke="#1a1a1a" stroke-width="1.1"/>
<rect x="217.78" y="294.37" width="3.50" height="6.23" fill="#f19e1f"/>
<line x1="219.53" y1="292.91" x2="219.53" y2="295.84" stroke="#1a1a1a" stroke-width="0.9"/>
<line x1="218.53" y1="292.91" x2="220.53" y2="292.91" stroke="#1a1a1a" stroke-width="1.1"/>
<rect x="221.28" y="298.77" width="3.50" height="1.83" fill="#3ba535"/>
<line x1="223.03" y1="298.04" x2="223.03" y2="299.50" stroke="#1a1a1a" stroke-width="0.9"/>
<line x1="222.03" y1="298.04" x2="224.03" y2="298.04" stroke="#1a1a1a" stroke-width="1.1"/>
<rect x="228.30" y="300.38" width="3.50" height="0.22" fill="#c00834"/>
<rect x="231.80" y="300.38" width="3.50" height="0.22" fill="#1d4b80"/>
<rect x="235.30" y="300.38" width="3.50" height="0.22" fill="#f19e1f"/>
<rect x="238.80" y="300.38" width="3.50" height="0.22" fill="#3ba535"/>
<rect x="245.82" y="298.55" width="3.50" height="2.05" fill="#c00834"/>
<line x1="247.57" y1="296.72" x2="247.57" y2="300.38" stroke="#1a1a1a" stroke-width="0.9"/>
<line x1="246.57" y1="296.72" x2="248.57" y2="296.72" stroke="#1a1a1a" stroke-width="1.1"/>
<rect x="249.32" y="300.38" width="3.50" height="0.22" fill="#1d4b80"/>
<line x1="251.07" y1="300.16" x2="251.07" y2="300.60" stroke="#1a1a1a" stroke-width="0.9"/>
<line x1="250.07" y1="300.16" x2="252.07" y2="300.16" stroke="#1a1a1a" stroke-width="1.1"/>
<rect x="252.82" y="300.38" width="3.50" height="0.22" fill="#f19e1f"/>
<line x1="254.57" y1="300.16" x2="254.57" y2="300.60" stroke="#1a1a1a" stroke-width="0.9"/>
<line x1="253.57" y1="300.16" x2="255.57" y2="300.16" stroke="#1a1a1a" stroke-width="1.1"/>
<rect x="256.32" y="300.16" width="3.50" height="0.44" fill="#3ba535"/>
<line x1="258.07" y1="299.06" x2="258.07" y2="301.26" stroke="#1a1a1a" stroke-width="0.9"/>
<line x1="257.07" y1="299.06" x2="259.07" y2="299.06" stroke="#1a1a1a" stroke-width="1.1"/>
<rect x="263.34" y="237.61" width="3.50" height="63.00" fill="#c00834"/>
<line x1="265.09" y1="235.41" x2="265.09" y2="239.61" stroke="#1a1a1a" stroke-width="0.9"/>
<line x1="264.09" y1="235.41" x2="266.09" y2="235.41" stroke="#1a1a1a" stroke-width="1.1"/>
<rect x="266.84" y="287.42" width="3.50" height="13.19" fill="#1d4b80"/>
<line x1="268.59" y1="286.32" x2="268.59" y2="288.51" stroke="#1a1a1a" stroke-width="0.9"/>
<line x1="267.59" y1="286.32" x2="269.59" y2="286.32" stroke="#1a1a1a" stroke-width="1.1"/>
<rect x="270.34" y="291.37" width="3.50" height="9.23" fill="#f19e1f"/>
<line x1="272.09" y1="290.64" x2="272.09" y2="292.10" stroke="#1a1a1a" stroke-width="0.9"/>
<line x1="271.09" y1="290.64" x2="273.09" y2="290.64" stroke="#1a1a1a" stroke-width="1.1"/>
<rect x="273.84" y="292.32" width="3.50" height="8.28" fill="#3ba535"/>
<line x1="275.59" y1="291.22" x2="275.59" y2="293.42" stroke="#1a1a1a" stroke-width="0.9"/>
<line x1="274.59" y1="291.22" x2="276.59" y2="291.22" stroke="#1a1a1a" stroke-width="1.1"/>
<rect x="280.86" y="220.32" width="3.50" height="80.28" fill="#c00834"/>
<line x1="282.61" y1="214.46" x2="282.61" y2="222.32" stroke="#1a1a1a" stroke-width="0.9"/>
<line x1="281.61" y1="214.46" x2="283.61" y2="214.46" stroke="#1a1a1a" stroke-width="1.1"/>
<rect x="284.36" y="289.32" width="3.50" height="11.28" fill="#1d4b80"/>
<line x1="286.11" y1="288.22" x2="286.11" y2="290.42" stroke="#1a1a1a" stroke-width="0.9"/>
<line x1="285.11" y1="288.22" x2="287.11" y2="288.22" stroke="#1a1a1a" stroke-width="1.1"/>
<rect x="287.86" y="295.91" width="3.50" height="4.69" fill="#f19e1f"/>
<line x1="289.61" y1="295.18" x2="289.61" y2="296.64" stroke="#1a1a1a" stroke-width="0.9"/>
<line x1="288.61" y1="295.18" x2="290.61" y2="295.18" stroke="#1a1a1a" stroke-width="1.1"/>
<rect x="291.36" y="291.37" width="3.50" height="9.23" fill="#3ba535"/>
<line x1="293.11" y1="289.54" x2="293.11" y2="293.20" stroke="#1a1a1a" stroke-width="0.9"/>
<line x1="292.11" y1="289.54" x2="294.11" y2="289.54" stroke="#1a1a1a" stroke-width="1.1"/>
<rect x="298.38" y="228.45" width="3.50" height="72.15" fill="#c00834"/>
<rect x="301.88" y="228.45" width="3.50" height="72.15" fill="#1d4b80"/>
<rect x="305.38" y="228.45" width="3.50" height="72.15" fill="#f19e1f"/>
<rect x="308.88" y="228.45" width="3.50" height="72.15" fill="#3ba535"/>
<rect x="315.90" y="296.50" width="3.50" height="4.10" fill="#c00834"/>
<line x1="317.65" y1="295.40" x2="317.65" y2="297.60" stroke="#1a1a1a" stroke-width="0.9"/>
<line x1="316.65" y1="295.40" x2="318.65" y2="295.40" stroke="#1a1a1a" stroke-width="1.1"/>
<rect x="319.40" y="299.50" width="3.50" height="1.10" fill="#1d4b80"/>
<line x1="321.15" y1="299.14" x2="321.15" y2="299.87" stroke="#1a1a1a" stroke-width="0.9"/>
<line x1="320.15" y1="299.14" x2="322.15" y2="299.14" stroke="#1a1a1a" stroke-width="1.1"/>
<rect x="322.90" y="300.38" width="3.50" height="0.22" fill="#f19e1f"/>
<line x1="324.65" y1="300.16" x2="324.65" y2="300.60" stroke="#1a1a1a" stroke-width="0.9"/>
<line x1="323.65" y1="300.16" x2="325.65" y2="300.16" stroke="#1a1a1a" stroke-width="1.1"/>
<rect x="326.40" y="297.82" width="3.50" height="2.78" fill="#3ba535"/>
<line x1="328.15" y1="296.72" x2="328.15" y2="298.92" stroke="#1a1a1a" stroke-width="0.9"/>
<line x1="327.15" y1="296.72" x2="329.15" y2="296.72" stroke="#1a1a1a" stroke-width="1.1"/>
<rect x="333.42" y="295.91" width="3.50" height="4.69" fill="#c00834"/>
<line x1="335.17" y1="294.81" x2="335.17" y2="297.01" stroke="#1a1a1a" stroke-width="0.9"/>
<line x1="334.17" y1="294.81" x2="336.17" y2="294.81" stroke="#1a1a1a" stroke-width="1.1"/>
<rect x="336.92" y="299.50" width="3.50" height="1.10" fill="#1d4b80"/>
<line x1="338.67" y1="299.14" x2="338.67" y2="299.87" stroke="#1a1a1a" stroke-width="0.9"/>
<line x1="337.67" y1="299.14" x2="339.67" y2="299.14" stroke="#1a1a1a" stroke-width="1.1"/>
<rect x="340.42" y="300.38" width="3.50" height="0.22" fill="#f19e1f"/>
<line x1="342.17" y1="300.16" x2="342.17" y2="300.60" stroke="#1a1a1a" stroke-width="0.9"/>
<line x1="341.17" y1="300.16" x2="343.17" y2="300.16" stroke="#1a1a1a" stroke-width="1.1"/>
<rect x="343.92" y="298.40" width="3.50" height="2.20" fill="#3ba535"/>
<line x1="345.67" y1="297.30" x2="345.67" y2="299.50" stroke="#1a1a1a" stroke-width="0.9"/>
<line x1="344.67" y1="297.30" x2="346.67" y2="297.30" stroke="#1a1a1a" stroke-width="1.1"/>
<line x1="51.80" y1="209.80" x2="51.80" y2="301.10" stroke="#2b2b2b" stroke-width="1.0"/>
<line x1="51.80" y1="300.60" x2="348.50" y2="300.60" stroke="#2b2b2b" stroke-width="1.0"/>
<line x1="48.60" y1="300.60" x2="51.80" y2="300.60" stroke="#2b2b2b" stroke-width="1.0"/>
<text class="r" x="44.10" y="303.80" font-size="9.2" text-anchor="end" font-weight="normal" fill="#3a3a3a" textLength="4.80" lengthAdjust="spacingAndGlyphs">0</text>
<line x1="48.60" y1="285.95" x2="51.80" y2="285.95" stroke="#2b2b2b" stroke-width="1.0"/>
<text class="r" x="44.10" y="289.15" font-size="9.2" text-anchor="end" font-weight="normal" fill="#3a3a3a" textLength="9.60" lengthAdjust="spacingAndGlyphs">20</text>
<line x1="48.60" y1="271.30" x2="51.80" y2="271.30" stroke="#2b2b2b" stroke-width="1.0"/>
<text class="r" x="44.10" y="274.50" font-size="9.2" text-anchor="end" font-weight="normal" fill="#3a3a3a" textLength="9.60" lengthAdjust="spacingAndGlyphs">40</text>
<line x1="48.60" y1="256.65" x2="51.80" y2="256.65" stroke="#2b2b2b" stroke-width="1.0"/>
<text class="r" x="44.10" y="259.85" font-size="9.2" text-anchor="end" font-weight="normal" fill="#3a3a3a" textLength="9.60" lengthAdjust="spacingAndGlyphs">60</text>
<line x1="48.60" y1="242.00" x2="51.80" y2="242.00" stroke="#2b2b2b" stroke-width="1.0"/>
<text class="r" x="44.10" y="245.20" font-size="9.2" text-anchor="end" font-weight="normal" fill="#3a3a3a" textLength="9.60" lengthAdjust="spacingAndGlyphs">80</text>
<line x1="48.60" y1="227.35" x2="51.80" y2="227.35" stroke="#2b2b2b" stroke-width="1.0"/>
<text class="r" x="44.10" y="230.55" font-size="9.2" text-anchor="end" font-weight="normal" fill="#3a3a3a" textLength="14.40" lengthAdjust="spacingAndGlyphs">100</text>
<line x1="48.60" y1="212.70" x2="51.80" y2="212.70" stroke="#2b2b2b" stroke-width="1.0"/>
<text class="r" x="44.10" y="215.90" font-size="9.2" text-anchor="end" font-weight="normal" fill="#3a3a3a" textLength="14.40" lengthAdjust="spacingAndGlyphs">120</text>
<line x1="60.10" y1="300.60" x2="60.10" y2="304.10" stroke="#2b2b2b" stroke-width="0.9"/>
<text class="r" x="63.00" y="307.80" font-size="9.0" text-anchor="end" font-weight="normal" fill="#3a3a3a" transform="rotate(-90 63.00 307.80)">HIT1P3D4</text>
<line x1="77.62" y1="300.60" x2="77.62" y2="304.10" stroke="#2b2b2b" stroke-width="0.9"/>
<text class="r" x="80.43" y="307.80" font-size="9.0" text-anchor="end" font-weight="normal" fill="#3a3a3a" transform="rotate(-90 80.43 307.80)">HIT1P4B1</text>
<line x1="95.14" y1="300.60" x2="95.14" y2="304.10" stroke="#2b2b2b" stroke-width="0.9"/>
<text class="r" x="97.86" y="307.80" font-size="9.0" text-anchor="end" font-weight="normal" fill="#3a3a3a" transform="rotate(-90 97.86 307.80)">HIT2P4D5</text>
<line x1="112.66" y1="300.60" x2="112.66" y2="304.10" stroke="#2b2b2b" stroke-width="0.9"/>
<text class="r" x="115.29" y="307.80" font-size="9.0" text-anchor="end" font-weight="normal" fill="#3a3a3a" transform="rotate(-90 115.29 307.80)">HIT3P1A11</text>
<line x1="130.18" y1="300.60" x2="130.18" y2="304.10" stroke="#2b2b2b" stroke-width="0.9"/>
<text class="r" x="132.72" y="307.80" font-size="9.0" text-anchor="end" font-weight="normal" fill="#3a3a3a" transform="rotate(-90 132.72 307.80)">HIT3P7F6</text>
<line x1="147.70" y1="300.60" x2="147.70" y2="304.10" stroke="#2b2b2b" stroke-width="0.9"/>
<text class="r" x="150.15" y="307.80" font-size="9.0" text-anchor="end" font-weight="normal" fill="#3a3a3a" transform="rotate(-90 150.15 307.80)">HIT3P7H2</text>
<line x1="165.22" y1="300.60" x2="165.22" y2="304.10" stroke="#2b2b2b" stroke-width="0.9"/>
<text class="r" x="167.58" y="307.80" font-size="9.0" text-anchor="end" font-weight="normal" fill="#3a3a3a" transform="rotate(-90 167.58 307.80)">HIT5P5D11</text>
<line x1="182.74" y1="300.60" x2="182.74" y2="304.10" stroke="#2b2b2b" stroke-width="0.9"/>
<text class="r" x="185.01" y="307.80" font-size="9.0" text-anchor="end" font-weight="normal" fill="#3a3a3a" transform="rotate(-90 185.01 307.80)">HIT1P3E10</text>
<line x1="200.26" y1="300.60" x2="200.26" y2="304.10" stroke="#2b2b2b" stroke-width="0.9"/>
<text class="r" x="202.44" y="307.80" font-size="9.0" text-anchor="end" font-weight="normal" fill="#3a3a3a" transform="rotate(-90 202.44 307.80)">HIT1P3F8</text>
<line x1="217.78" y1="300.60" x2="217.78" y2="304.10" stroke="#2b2b2b" stroke-width="0.9"/>
<text class="r" x="219.87" y="307.80" font-size="9.0" text-anchor="end" font-weight="normal" fill="#3a3a3a" transform="rotate(-90 219.87 307.80)">HIT3P7D2</text>
<line x1="235.30" y1="300.60" x2="235.30" y2="304.10" stroke="#2b2b2b" stroke-width="0.9"/>
<text class="r" x="237.30" y="307.80" font-size="9.0" text-anchor="end" font-weight="normal" fill="#3a3a3a" transform="rotate(-90 237.30 307.80)">BSA</text>
<line x1="252.82" y1="300.60" x2="252.82" y2="304.10" stroke="#2b2b2b" stroke-width="0.9"/>
<text class="r" x="254.73" y="307.80" font-size="9.0" text-anchor="end" font-weight="normal" fill="#3a3a3a" transform="rotate(-90 254.73 307.80)">N plasma1</text>
<line x1="270.34" y1="300.60" x2="270.34" y2="304.10" stroke="#2b2b2b" stroke-width="0.9"/>
<text class="r" x="272.16" y="307.80" font-size="9.0" text-anchor="end" font-weight="normal" fill="#3a3a3a" transform="rotate(-90 272.16 307.80)">HIT2 plasma</text>
<line x1="287.86" y1="300.60" x2="287.86" y2="304.10" stroke="#2b2b2b" stroke-width="0.9"/>
<text class="r" x="289.59" y="307.80" font-size="9.0" text-anchor="end" font-weight="normal" fill="#3a3a3a" transform="rotate(-90 289.59 307.80)">HIT3 plasma</text>
<line x1="305.38" y1="300.60" x2="305.38" y2="304.10" stroke="#2b2b2b" stroke-width="0.9"/>
<text class="r" x="307.02" y="307.80" font-size="9.0" text-anchor="end" font-weight="normal" fill="#3a3a3a" transform="rotate(-90 307.02 307.80)">TRAP</text>
<line x1="322.90" y1="300.60" x2="322.90" y2="304.10" stroke="#2b2b2b" stroke-width="0.9"/>
<text class="r" x="324.45" y="307.80" font-size="9.0" text-anchor="end" font-weight="normal" fill="#3a3a3a" transform="rotate(-90 324.45 307.80)">HIT1P1H1</text>
<line x1="340.42" y1="300.60" x2="340.42" y2="304.10" stroke="#2b2b2b" stroke-width="0.9"/>
<text class="r" x="341.88" y="307.80" font-size="9.0" text-anchor="end" font-weight="normal" fill="#3a3a3a" transform="rotate(-90 341.88 307.80)">HIT4P1A2</text>
<text class="r" x="9.30" y="256.80" font-size="10.0" text-anchor="middle" font-weight="normal" fill="#3a3a3a" transform="rotate(-90 9.30 256.80)" textLength="69.50" lengthAdjust="spacingAndGlyphs">Relative P-selectin</text>
<text class="r" x="22.40" y="256.90" font-size="9.4" text-anchor="middle" font-weight="normal" fill="#3a3a3a" transform="rotate(-90 22.40 256.90)" textLength="57.50" lengthAdjust="spacingAndGlyphs">expression (%)</text>
<line x1="56.10" y1="366.60" x2="169.40" y2="366.60" stroke="#666" stroke-width="1.3"/>
<line x1="178.00" y1="366.60" x2="219.10" y2="366.60" stroke="#666" stroke-width="1.3"/>
<line x1="317.50" y1="366.60" x2="342.50" y2="366.60" stroke="#666" stroke-width="1.3"/>
<text class="r" x="112.20" y="377.30" font-size="9.6" text-anchor="middle" font-weight="normal" fill="#3a3a3a">PA</text>
<text class="r" x="198.50" y="377.30" font-size="9.6" text-anchor="middle" font-weight="normal" fill="#3a3a3a">NA</text>
<text class="r" x="330.20" y="377.30" font-size="9.6" text-anchor="middle" font-weight="normal" fill="#3a3a3a">NB</text>
<rect x="167.40" y="211.90" width="4.70" height="4.70" fill="#c00834"/>
<text class="r" x="176.40" y="216.80" font-size="8.7" text-anchor="start" font-weight="normal" fill="#3a3a3a">+PF4</text>
<rect x="167.40" y="224.90" width="4.70" height="4.70" fill="#1d4b80"/>
<text class="r" x="176.40" y="229.80" font-size="8.7" text-anchor="start" font-weight="normal" fill="#3a3a3a">No PF4</text>
<rect x="167.40" y="237.80" width="4.70" height="4.70" fill="#f19e1f"/>
<text class="r" x="176.40" y="242.70" font-size="8.7" text-anchor="start" font-weight="normal" fill="#3a3a3a">+PF4 + IV.3</text>
<rect x="167.40" y="250.70" width="4.70" height="4.70" fill="#3ba535"/>
<text class="r" x="176.40" y="255.60" font-size="8.7" text-anchor="start" font-weight="normal" fill="#3a3a3a">+PF4 + HD Hep</text>
<text x="388.20" y="201.60" font-size="12.8" text-anchor="start" font-weight="bold" fill="#111">D</text>
<line x1="420.90" y1="210.50" x2="420.90" y2="331.30" stroke="#2b2b2b" stroke-width="1.0"/>
<line x1="420.90" y1="330.80" x2="520.00" y2="330.80" stroke="#2b2b2b" stroke-width="1.0"/>
<line x1="417.70" y1="330.80" x2="420.90" y2="330.80" stroke="#2b2b2b" stroke-width="1.0"/>
<text class="r" x="414.60" y="334.10" font-size="9.5" text-anchor="end" font-weight="normal" fill="#3a3a3a">0</text>
<line x1="417.70" y1="307.30" x2="420.90" y2="307.30" stroke="#2b2b2b" stroke-width="1.0"/>
<text class="r" x="414.60" y="310.60" font-size="9.5" text-anchor="end" font-weight="normal" fill="#3a3a3a">5</text>
<line x1="417.70" y1="283.80" x2="420.90" y2="283.80" stroke="#2b2b2b" stroke-width="1.0"/>
<text class="r" x="414.60" y="287.10" font-size="9.5" text-anchor="end" font-weight="normal" fill="#3a3a3a">10</text>
<line x1="417.70" y1="260.30" x2="420.90" y2="260.30" stroke="#2b2b2b" stroke-width="1.0"/>
<text class="r" x="414.60" y="263.60" font-size="9.5" text-anchor="end" font-weight="normal" fill="#3a3a3a">15</text>
<line x1="417.70" y1="236.80" x2="420.90" y2="236.80" stroke="#2b2b2b" stroke-width="1.0"/>
<text class="r" x="414.60" y="240.10" font-size="9.5" text-anchor="end" font-weight="normal" fill="#3a3a3a">20</text>
<line x1="417.70" y1="213.30" x2="420.90" y2="213.30" stroke="#2b2b2b" stroke-width="1.0"/>
<text class="r" x="414.60" y="216.60" font-size="9.5" text-anchor="end" font-weight="normal" fill="#3a3a3a">25</text>
<line x1="445.00" y1="330.80" x2="445.00" y2="333.40" stroke="#2b2b2b" stroke-width="0.9"/>
<line x1="495.80" y1="330.80" x2="495.80" y2="333.40" stroke="#2b2b2b" stroke-width="0.9"/>
<text class="r" x="445.00" y="345.80" font-size="9.6" text-anchor="middle" font-weight="normal" fill="#3a3a3a">PA</text>
<text class="r" x="495.20" y="345.80" font-size="9.6" text-anchor="middle" font-weight="normal" fill="#3a3a3a">NA</text>
<text class="r" x="397.40" y="269.80" font-size="10.0" text-anchor="middle" font-weight="normal" fill="#3a3a3a" transform="rotate(-90 397.40 269.80)" textLength="80.00" lengthAdjust="spacingAndGlyphs">PF4/H-bdining (AUC)</text>
<line x1="446.70" y1="223.70" x2="488.00" y2="223.70" stroke="#222" stroke-width="1.1"/>
<text class="r" x="467.20" y="217.90" font-size="8.7" text-anchor="middle" font-weight="normal" fill="#3a3a3a" textLength="8.00" lengthAdjust="spacingAndGlyphs">ns</text>
<circle cx="444.60" cy="258.00" r="2.0" fill="#3ba3d3"/>
<circle cx="438.20" cy="284.20" r="2.0" fill="#3ba3d3"/>
<circle cx="451.80" cy="284.00" r="2.0" fill="#3ba3d3"/>
<circle cx="444.70" cy="286.80" r="2.0" fill="#3ba3d3"/>
<circle cx="444.70" cy="304.00" r="2.0" fill="#3ba3d3"/>
<circle cx="441.30" cy="318.20" r="2.0" fill="#3ba3d3"/>
<circle cx="448.40" cy="318.20" r="2.0" fill="#3ba3d3"/>
<circle cx="495.80" cy="230.00" r="2.0" fill="#cc1069"/>
<circle cx="495.80" cy="265.80" r="2.0" fill="#cc1069"/>
<circle cx="493.70" cy="269.40" r="2.0" fill="#cc1069"/>
<circle cx="497.90" cy="272.70" r="2.0" fill="#cc1069"/>
<circle cx="495.80" cy="284.70" r="2.0" fill="#cc1069"/>
<circle cx="493.70" cy="288.50" r="2.0" fill="#cc1069"/>
<circle cx="498.00" cy="292.10" r="2.0" fill="#cc1069"/>
<circle cx="495.40" cy="303.30" r="2.0" fill="#cc1069"/>
<circle cx="502.20" cy="310.30" r="2.0" fill="#cc1069"/>
<circle cx="489.20" cy="314.20" r="2.0" fill="#cc1069"/>
<circle cx="493.50" cy="313.00" r="2.0" fill="#cc1069"/>
<circle cx="502.20" cy="314.60" r="2.0" fill="#cc1069"/>
<circle cx="480.50" cy="316.60" r="2.0" fill="#cc1069"/>
<circle cx="484.90" cy="318.20" r="2.0" fill="#cc1069"/>
<circle cx="480.50" cy="321.00" r="2.0" fill="#cc1069"/>
<circle cx="489.20" cy="321.00" r="2.0" fill="#cc1069"/>
<circle cx="493.50" cy="320.10" r="2.0" fill="#cc1069"/>
<circle cx="497.70" cy="318.90" r="2.0" fill="#cc1069"/>
<circle cx="497.70" cy="322.10" r="2.0" fill="#cc1069"/>
<circle cx="502.20" cy="321.30" r="2.0" fill="#cc1069"/>
<circle cx="506.60" cy="321.30" r="2.0" fill="#cc1069"/>
<circle cx="510.90" cy="321.20" r="2.0" fill="#cc1069"/>
<line x1="428.20" y1="286.60" x2="461.80" y2="286.60" stroke="#333" stroke-width="1.0"/>
<line x1="480.10" y1="314.60" x2="513.40" y2="314.60" stroke="#333" stroke-width="1.0"/>
</g>
</svg>
</body></html>
